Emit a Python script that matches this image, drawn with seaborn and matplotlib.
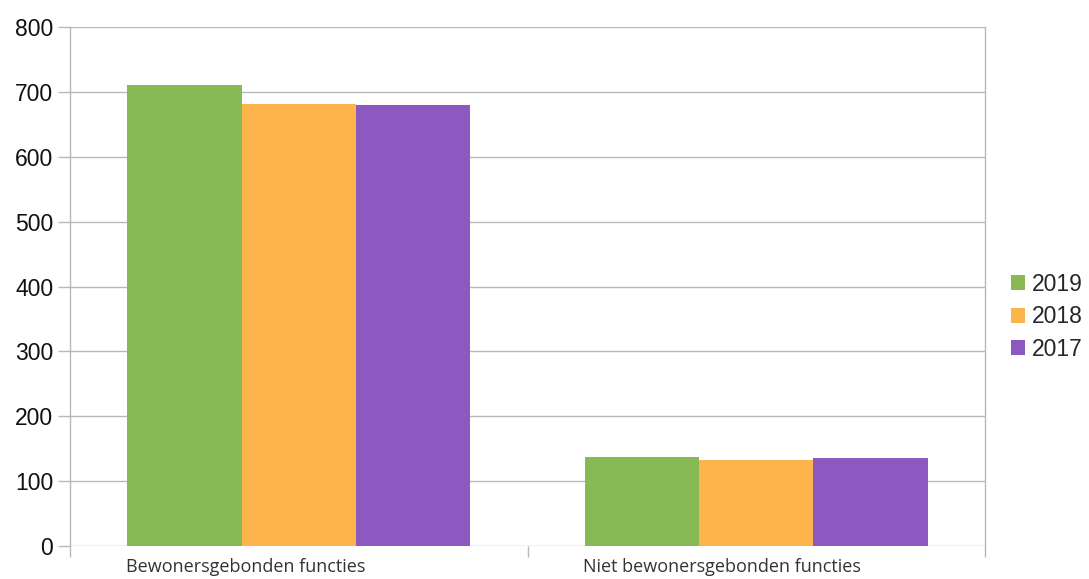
import matplotlib
matplotlib.use("Agg")
import matplotlib.pyplot as plt
import matplotlib.transforms as mtransforms
from matplotlib.patches import Patch
import pandas as pd
import seaborn as sns

# Aantal functies per jaar
categories = ["Bewonersgebonden functies", "Niet bewonersgebonden functies"]
years = ["2019", "2018", "2017"]
values_2019 = [710, 137]
values_2018 = [681, 132]
values_2017 = [679, 135]
y_ticks = [0, 100, 200, 300, 400, 500, 600, 700, 800]

colors = {"2019": "#87b955", "2018": "#fdb44c", "2017": "#8e58c1"}

rows = []
for year, vals in zip(years, [values_2019, values_2018, values_2017]):
    for cat, v in zip(categories, vals):
        rows.append({"categorie": cat, "jaar": year, "aantal": v})
df = pd.DataFrame(rows)

sns.set_theme(style="white")
plt.rcParams["font.family"] = ["Liberation Sans", "DejaVu Sans"]

fig = plt.figure(figsize=(10.89, 5.79), dpi=100)
ax = fig.add_axes([70 / 1089, 33 / 579, 915 / 1089, 519 / 579])

sns.barplot(data=df, x="categorie", y="aantal", hue="jaar", order=categories,
            hue_order=years, palette=colors, width=0.75, saturation=1,
            edgecolor="none", linewidth=0, ax=ax, legend=False)

grid_color = "#b8b8b8"
ax.set_ylim(0, 800)
ax.set_xlim(-0.5, 1.5)
ax.set_yticks(y_ticks)
ax.set_yticklabels([str(t) for t in y_ticks], fontsize=16.5, color="#111111")
for t in y_ticks:
    ax.axhline(t, color=grid_color, linewidth=1, zorder=0)
ax.set_axisbelow(True)
ax.tick_params(axis="y", length=9, width=1, color=grid_color, pad=3, left=True)

# category boundary ticks
ax.set_xticks([-0.5, 0.5, 1.5])
ax.set_xticklabels([])
ax.tick_params(axis="x", length=8, width=1, color=grid_color, bottom=True)

for side in ["top", "bottom"]:
    ax.spines[side].set_visible(False)
for side in ["left", "right"]:
    ax.spines[side].set_color(grid_color)
    ax.spines[side].set_linewidth(1)
ax.set_xlabel("")
ax.set_ylabel("")

# category labels, left-aligned with the first bar of each group
trans = mtransforms.blended_transform_factory(ax.transData, ax.transAxes)
for i, cat in enumerate(categories):
    ax.text(i - 0.378, -0.024, cat, transform=trans, ha="left", va="top",
            fontsize=13, color="#333333", family=["Open Sans", "DejaVu Sans"])

handles = [Patch(facecolor=colors[y], edgecolor="none", label=y) for y in years]
fig.legend(handles=handles, loc="center left", bbox_to_anchor=(1011 / 1089, 0.453),
           frameon=False, fontsize=16.5, handlelength=0.62, handleheight=0.62,
           handletextpad=0.3, labelspacing=0.42, borderaxespad=0, borderpad=0)

fig.savefig("out.png", dpi=100)
